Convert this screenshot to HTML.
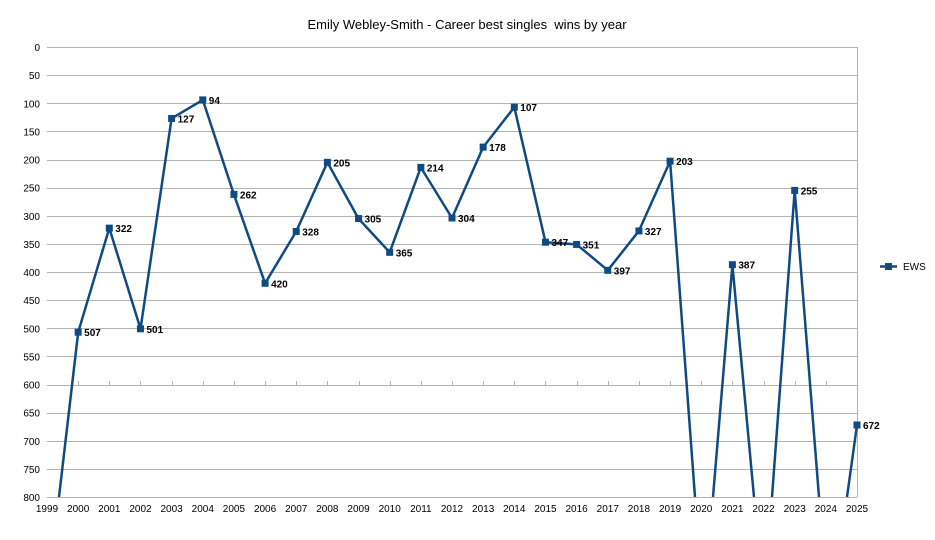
<!DOCTYPE html>
<html><head><meta charset="utf-8"><style>
body{margin:0;background:#fff;}
svg text{font-family:"Liberation Sans",Arial,sans-serif;}
</style></head><body>
<svg width="935" height="535" xmlns="http://www.w3.org/2000/svg">
<rect width="935" height="535" fill="#fff"/>
<text x="467" y="29" text-anchor="middle" font-size="13" fill="#000" style="white-space:pre">Emily Webley-Smith - Career best singles&#160; wins by year</text>
<g id="grid" stroke="#b3b3b3" stroke-width="1"></g>
<g id="ylab" font-size="10" fill="#000" text-anchor="end"></g>
<g id="xlab" font-size="10" fill="#000" text-anchor="middle"></g>
<g id="ticks" stroke="#b3b3b3" stroke-width="1"></g>
<g id="series" fill="none" stroke="#0f4a82" stroke-width="2.5" stroke-linejoin="round"></g>
<g id="marks" fill="#0f4a82"></g>
<g id="labs" font-size="10" font-weight="bold" fill="#000"></g>
<line x1="880" y1="266.5" x2="897" y2="266.5" stroke="#0f4a82" stroke-width="2.5"/>
<rect x="885" y="263" width="7" height="7" fill="#0f4a82"/>
<text x="903" y="270" font-size="10" fill="#000">EWS</text>
</svg>
<script>
const NS="http://www.w3.org/2000/svg";
function el(p,t,a,txt){const e=document.createElementNS(NS,t);for(const k in a)e.setAttribute(k,a[k]);if(txt!==undefined)e.textContent=txt;document.getElementById(p).appendChild(e);}
const X0=47,X1=857,Y0=47,Y1=497;
const xs=y=>X0+(y-1999)*(X1-X0)/26;
const ys=v=>Y0+v*(Y1-Y0)/800;
for(let v=0;v<=800;v+=50){const y=Math.round(ys(v))+0.5;el("grid","line",{x1:X0,y1:y,x2:X1,y2:y});el("ylab","text",{x:40,y:ys(v)+4},v);}
el("grid","line",{x1:X1+0.5,y1:Y0,x2:X1+0.5,y2:Y1});
for(let yr=1999;yr<=2025;yr++){el("xlab","text",{x:xs(yr),y:512},yr);if(yr>1999&&yr<2025)el("ticks","line",{x1:Math.round(xs(yr))+0.5,y1:381,x2:Math.round(xs(yr))+0.5,y2:385});}
const d={2000:507,2001:322,2002:501,2003:127,2004:94,2005:262,2006:420,2007:328,2008:205,2009:305,2010:365,2011:214,2012:304,2013:178,2014:107,2015:347,2016:351,2017:397,2018:327,2019:203,2021:387,2023:255,2025:672};
const P=(yr)=>xs(yr).toFixed(1)+","+ys(d[yr]).toFixed(1);
let s1=["59,497"];for(let y=2000;y<=2019;y++)s1.push(P(y));s1.push("695,497");
el("series","polyline",{points:s1.join(" ")});
el("series","polyline",{points:["713,497",P(2021),"754,497"].join(" ")});
el("series","polyline",{points:["772,497",P(2023),"819,497"].join(" ")});
el("series","polyline",{points:["847,497",P(2025)].join(" ")});
for(const k in d){const x=xs(+k),y=ys(d[k]);el("marks","rect",{x:x-3.5,y:y-3.5,width:7,height:7});el("labs","text",{x:x+6,y:y+4},d[k]);}
</script>
</body></html>
